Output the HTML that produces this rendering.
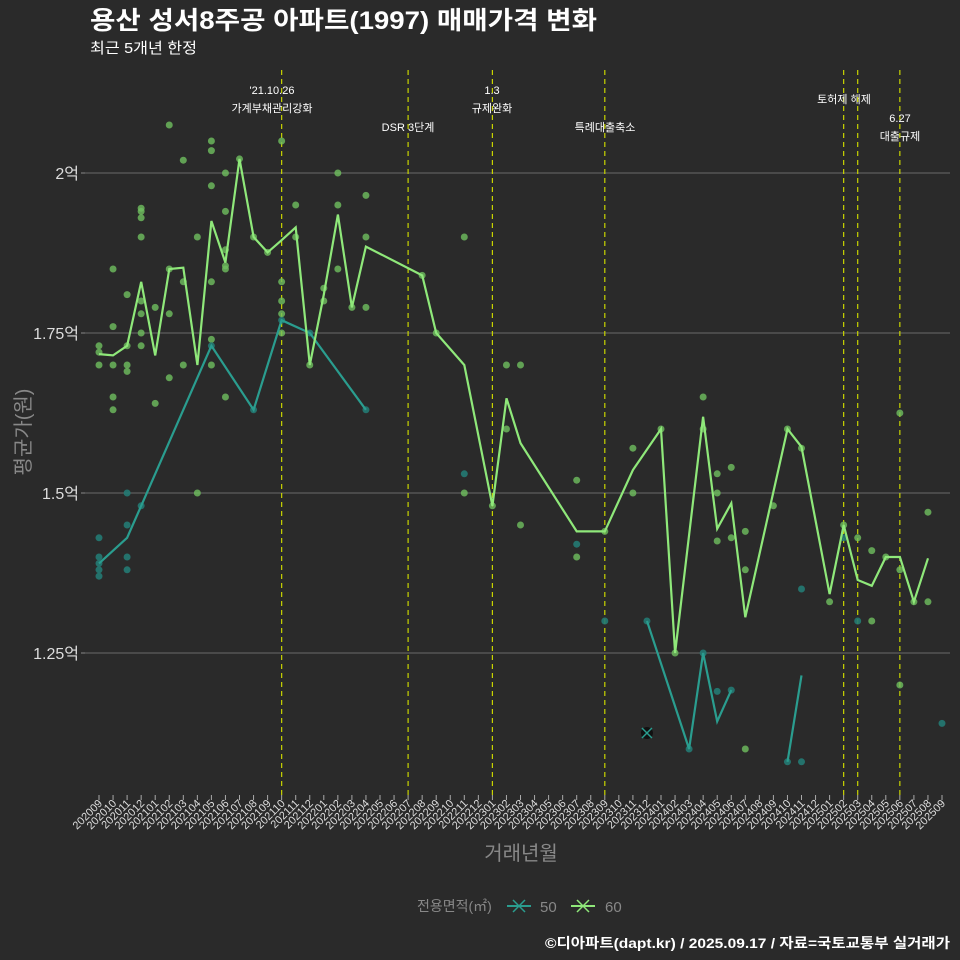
<!DOCTYPE html>
<html><head><meta charset="utf-8"><style>
html,body{margin:0;padding:0;background:#2a2a2a;}
svg{display:block;font-family:"Liberation Sans","Noto Sans CJK KR",sans-serif;}
</style></head><body>
<svg id="chart" width="960" height="960" viewBox="0 0 960 960">
<rect x="0" y="0" width="960" height="960" fill="#2a2a2a"/>
<text x="90" y="29" font-size="25" font-weight="bold" fill="#ffffff" textLength="507" lengthAdjust="spacingAndGlyphs">용산 성서8주공 아파트(1997) 매매가격 변화</text>
<text x="90" y="53" font-size="15" fill="#ffffff" textLength="107" lengthAdjust="spacingAndGlyphs">최근 5개년 한정</text>
<g id="grid"></g><g id="events"></g><g id="points"></g><g id="lines"></g><g id="axes"></g>
<text x="30" y="432" font-size="20" fill="#888" transform="rotate(-90 30 432)" text-anchor="middle">평균가(원)</text>
<text x="521" y="860" font-size="20" fill="#888" text-anchor="middle">거래년월</text>
<g>
<text x="417" y="911" font-size="14" fill="#888">전용면적(㎡)</text>
<g><line x1="507" y1="906" x2="531" y2="906" stroke="#2a9d8f" stroke-width="2"/><path d="M513 900 L525 912 M525 900 L513 912" stroke="#2a9d8f" stroke-width="1.5"/><text x="540" y="912" font-size="15" fill="#888">50</text></g>
<g><line x1="571" y1="906" x2="595" y2="906" stroke="#8fe87a" stroke-width="2"/><path d="M577 900 L589 912 M589 900 L577 912" stroke="#8fe87a" stroke-width="1.5"/><text x="605" y="912" font-size="15" fill="#888">60</text></g>
</g>
<text x="950" y="948" font-size="14" font-weight="bold" fill="#fff" text-anchor="end" textLength="405" lengthAdjust="spacingAndGlyphs">©디아파트(dapt.kr) / 2025.09.17 / 자료=국토교통부 실거래가</text>
</svg>
<script>
const months=[];for(let y=2020,m=9;months.length<61;){months.push(y+String(m).padStart(2,'0'));m++;if(m>12){m=1;y++;}}
const yTicks=[1.25,1.5,1.75,2];
const yTickLabels=["1.25억","1.5억","1.75억","2억"];
const line60=[1.717,1.715,1.73,1.83,1.715,1.85,1.852,1.70,1.925,1.86,2.022,1.90,1.876,1.895,1.915,1.70,1.81,1.935,1.79,1.885,null,null,null,1.84,1.75,null,1.70,null,1.48,1.648,1.578,null,null,null,1.44,null,1.44,null,1.536,null,1.60,1.25,null,1.619,1.444,1.484,1.306,null,null,1.60,1.572,null,1.342,1.45,1.364,1.355,1.40,1.40,1.33,1.398,null];
const line50=[1.39,null,1.43,1.48,null,null,null,null,1.73,null,null,1.63,null,1.77,null,1.75,null,null,null,1.63,null,null,null,null,null,null,null,null,null,null,null,null,null,null,null,null,null,null,null,1.30,null,null,1.10,1.25,1.143,1.192,null,null,null,1.08,1.215,null,null,null,null,null,null,null,null,null,null];
const line50Breaks=[39,49];
const pts60=[[0,1.73],[0,1.72],[0,1.70],[1,1.85],[1,1.76],[1,1.70],[1,1.65],[1,1.63],[2,1.81],[2,1.73],[2,1.69],[2,1.70],[3,1.945],[3,1.94],[3,1.93],[3,1.90],[3,1.80],[3,1.78],[3,1.75],[3,1.73],[4,1.79],[4,1.64],[5,2.075],[5,1.85],[5,1.78],[5,1.68],[6,2.02],[6,1.83],[6,1.70],[7,1.90],[7,1.50],[8,2.05],[8,2.035],[8,1.98],[8,1.83],[8,1.74],[8,1.70],[9,2.00],[9,1.94],[9,1.88],[9,1.855],[9,1.85],[9,1.65],[10,2.022],[11,1.90],[12,1.876],[13,2.05],[13,1.83],[13,1.80],[13,1.78],[13,1.75],[14,1.95],[14,1.90],[15,1.70],[16,1.82],[16,1.80],[17,2.00],[17,1.95],[17,1.85],[18,1.79],[19,1.965],[19,1.90],[19,1.79],[23,1.84],[24,1.75],[26,1.90],[26,1.50],[28,1.48],[29,1.70],[29,1.60],[30,1.70],[30,1.45],[34,1.52],[34,1.40],[36,1.44],[38,1.57],[38,1.50],[40,1.60],[41,1.25],[43,1.65],[43,1.60],[44,1.53],[44,1.50],[44,1.425],[45,1.54],[45,1.43],[46,1.44],[46,1.38],[46,1.10],[48,1.48],[49,1.60],[50,1.57],[52,1.33],[53,1.45],[54,1.43],[55,1.41],[55,1.30],[56,1.40],[57,1.625],[57,1.38],[57,1.20],[58,1.33],[59,1.47],[59,1.33]];
const pts50=[[0,1.43],[0,1.40],[0,1.39],[0,1.38],[0,1.37],[2,1.50],[2,1.45],[2,1.40],[2,1.38],[3,1.48],[8,1.73],[11,1.63],[13,1.77],[15,1.75],[19,1.63],[26,1.53],[34,1.42],[36,1.30],[39,1.30],[42,1.10],[43,1.25],[44,1.19],[45,1.192],[49,1.08],[50,1.35],[50,1.08],[53,1.43],[54,1.30],[60,1.14]];
const eventMonths=[13,22,28,36,53,54,57];
const eventLabels=[["'21.10.26","가계부채관리강화"],["DSR 3단계"],["1.3","규제완화"],["특례대출축소"],["토허제 해제"],[""],["6.27","대출규제"]];
const eventY=[[94,112],[131],[94,112],[131],[103],[0],[122,140]];
const eventX=[272,408,492,605,844,858,900];
const specialPoint=[39,1.125];

const NS="http://www.w3.org/2000/svg";
const X=i=>99+i*14.05;
const Y=v=>173+(2-v)*640;
function mk(tag,attrs,parent){const e=document.createElementNS(NS,tag);for(const k in attrs)e.setAttribute(k,attrs[k]);document.getElementById(parent).appendChild(e);return e;}

yTicks.forEach((t,k)=>{
 const l=mk('line',{x1:85,x2:950,y1:Y(t),y2:Y(t),stroke:'#6a6a6a','stroke-width':1},'grid');
 
 
 const tk=mk('line',{x1:81,x2:85,y1:Y(t),y2:Y(t),stroke:'#888'},'axes');
 
 
 const tx=mk('text',{x:79,y:Y(t)+6,'font-size':16,fill:'#ddd','text-anchor':'end'},'axes');
 tx.textContent=yTickLabels[k];
 
 
});
months.forEach((m,i)=>{
 const tk=mk('line',{x1:X(i),x2:X(i),y1:795,y2:800,stroke:'#aaa'},'axes');
 
 
 const tx=mk('text',{x:X(i)+4,y:804,'font-size':11,fill:'#ddd','text-anchor':'end',transform:`rotate(-45 ${X(i)+4} 804)`},'axes');
 tx.textContent=m;
 
 
});
eventMonths.forEach((mi,k)=>{
 const l=mk('line',{x1:X(mi),x2:X(mi),y1:70,y2:795,stroke:'#c8d400','stroke-width':1.2,'stroke-dasharray':'5,4'},'events');
 
 
 eventLabels[k].forEach((s,j)=>{
  if(!s)return;
  const t=mk('text',{x:eventX[k],y:eventY[k][j],'font-size':11,fill:'#fff','text-anchor':'middle'},'events');
  t.textContent=s;
  
  
 });
});
pts60.forEach(p=>{
 const c=mk('circle',{cx:X(p[0]),cy:Y(p[1]),r:3.5,fill:'#6fbf5f','fill-opacity':0.8},'points');
 
 
});
pts50.forEach(p=>{
 const c=mk('circle',{cx:X(p[0]),cy:Y(p[1]),r:3.5,fill:'#237a73','fill-opacity':0.9},'points');
 
 
});
function path(arr,breaks){let d='',first=true;arr.forEach((v,i)=>{if(v==null)return;if(breaks&&breaks.includes(i))first=true;d+=(first?'M':'L')+X(i).toFixed(1)+' '+Y(v).toFixed(1)+' ';first=false;});return d;}
const p50=mk('path',{d:path(line50,line50Breaks),fill:'none',stroke:'#2a9d8f','stroke-width':2.2},'lines');


const p60=mk('path',{d:path(line60),fill:'none',stroke:'#8fe87a','stroke-width':2.2},'lines');


const sx=X(specialPoint[0]),sy=Y(specialPoint[1]);
const sc=mk('circle',{cx:sx,cy:sy,r:6,fill:'#111'},'lines');


const sp=mk('path',{d:`M${sx-5} ${sy-5}L${sx+5} ${sy+5}M${sx+5} ${sy-5}L${sx-5} ${sy+5}`,stroke:'#2a9d8f','stroke-width':1.5},'lines');


</script>
</body></html>
